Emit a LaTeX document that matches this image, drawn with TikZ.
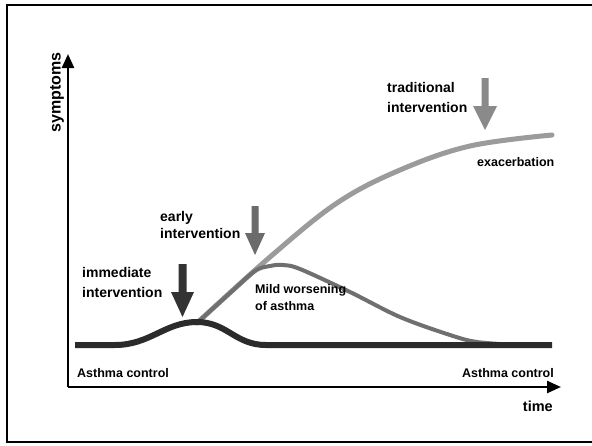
\documentclass[tikz,border=0pt]{standalone}
\usepackage{fontspec}
\setmainfont{Liberation Sans}
\usetikzlibrary{arrows.meta}
\definecolor{cdark}{HTML}{2B2B2B}
\definecolor{cmed}{HTML}{6F6F6F}
\definecolor{clight}{HTML}{9B9B9B}
\definecolor{adark}{HTML}{333333}
\definecolor{amed}{HTML}{6B6B6B}
\definecolor{alight}{HTML}{8A8A8A}
\tikzset{
  lbl/.style={inner sep=0pt, anchor=base west, align=left, font=\bfseries\fontsize{14}{20}\selectfont},
  lblsmall/.style={inner sep=0pt, anchor=base west, align=left, font=\bfseries\fontsize{12.5}{17}\selectfont},
  axis/.style={line width=2.4pt, -{Triangle[length=14pt,width=12pt]}},
  curve/.style={line cap=round, line join=round},
}
\begin{document}
\begin{tikzpicture}[x=1pt,y=-1pt]
\useasboundingbox (0,0) rectangle (592,445);
\fill[white] (0,0) rectangle (592,445);
\begin{scope}
\clip (0,0) rectangle (592,445);
\draw[line width=2pt] (7,5) rectangle (593,442);
\end{scope}
% axes
\coordinate (o) at (68,387);
\coordinate (ytop) at (68,54);
\coordinate (xend) at (561,387);
\draw[axis] (o) -- (ytop);
\draw[axis] (o) -- (xend);
\node[inner sep=0pt, rotate=90, font=\bfseries\fontsize{16}{17}\selectfont] (ylab) at (57,92.5) {symptoms};
\node[inner sep=0pt, anchor=base east, font=\bfseries\fontsize{14.5}{17}\selectfont] (xlab) at (553,411) {time};
% curves
\draw[curve, clight, line width=5pt] plot[smooth, tension=0.6] coordinates {(197,323) (270,257) (337,203) (400,170) (470,146) (552,135)};
\draw[curve, cmed, line width=4pt] plot[smooth, tension=0.55] coordinates {(197,323) (230,293) (255,271) (270,266) (283,265) (300,269) (350,292) (400,317) (450,335) (477,342) (517,345)};
\draw[cdark, line width=6pt] (75,345) -- (115,345) .. controls (150,345) and (165,322) .. (197,322) .. controls (227,322) and (235,345) .. (266,345) -- (552,345);
% block arrows
\fill[adark] (178.5,264) -- (186.5,264) -- (186.5,292) -- (194,292) -- (182.5,317) -- (171,292) -- (178.5,292) -- cycle;
\fill[amed] (251.5,206) -- (258.5,206) -- (258.5,233) -- (265,233) -- (255,255) -- (245,233) -- (251.5,233) -- cycle;
\fill[alight] (481.5,78) -- (488.5,78) -- (488.5,106) -- (497,106) -- (485,130) -- (473,106) -- (481.5,106) -- cycle;
% labels (base anchor = baseline of the last line)
\node[lbl] (imm) at (82,297) {immediate\\intervention};
\node[lbl, font=\bfseries\fontsize{14}{17}\selectfont] (early) at (160,238) {early\\intervention};
\node[lbl] (trad) at (387,112) {traditional\\intervention};
\node[lblsmall] (mild) at (255,310) {Mild worsening\\of asthma};
\node[lblsmall] (exac) at (477,166) {exacerbation};
\node[lblsmall] (acl) at (77,377) {Asthma control};
\node[lblsmall, anchor=base east] (acr) at (554,377) {Asthma control};
\end{tikzpicture}
\end{document}
